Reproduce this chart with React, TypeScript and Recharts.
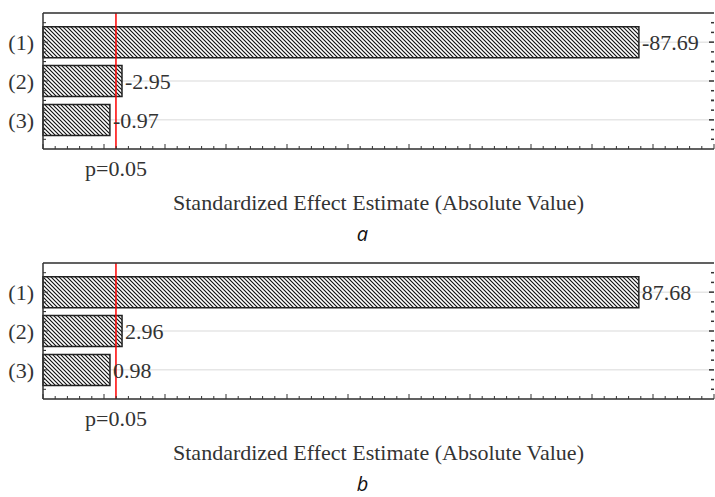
import {
  BarChart,
  Bar,
  XAxis,
  YAxis,
  CartesianGrid,
  ReferenceLine,
  LabelList,
  Label,
} from "recharts";

// Pareto of standardized effects, two fits
const factors = ["(1)", "(2)", "(3)"];
const effectsA = [-87.69, -2.95, -0.97];
const effectsB = [87.68, 2.96, 0.98];
const pLimit = 1.96;
const pLabel = "p=0.05";
const axisTitle = "Standardized Effect Estimate (Absolute Value)";

const xMin = -10;
const xMax = 100;
const xTicks = [
  -10, -8, -6, -4, -2, 0, 2, 4, 6, 8, 10, 12, 14, 16, 18, 20, 22, 24, 26, 28,
  30, 32, 34, 36, 38, 40, 42, 44, 46, 48, 50, 52, 54, 56, 58, 60, 62, 64, 66,
  68, 70, 72, 74, 76, 78, 80, 82, 84, 86, 88, 90, 92, 94, 96, 98, 100,
];

const INK = "#333";
const SERIF = "'Liberation Serif', 'Times New Roman', serif";
const PLOT_TOP = 13;
const PLOT_BOTTOM = 149;
const BAND_PAD = 9.7;
// spacing of the frame ticks on the side edges: four per category band
const SIDE_STEP = (PLOT_BOTTOM - PLOT_TOP - 2 * BAND_PAD) / factors.length / 4;
const SIDE_OFFSETS = [-2, -1, 0, 1, 2];

const BottomTick = ({ x, y, payload }: any) => {
  const len = payload.value % 10 === 0 ? 5 : 3;
  return <line x1={x} y1={y} x2={x} y2={y - len} stroke={INK} strokeWidth={1} />;
};

const TopTick = ({ x, y, payload }: any) => {
  const len = payload.value % 10 === 0 ? 5 : 3;
  return <line x1={x} y1={y} x2={x} y2={y + len} stroke={INK} strokeWidth={1} />;
};

// side ticks around one category centre; dir = +1 points right, -1 points left
const sideMarks = (x: number, y: number, dir: number, width: number) =>
  SIDE_OFFSETS.map((k) => {
    const len = k === 0 ? 5 : 3;
    const yy = y + k * SIDE_STEP;
    return (
      <line
        key={k}
        x1={x}
        y1={yy}
        x2={x + dir * len}
        y2={yy}
        stroke={INK}
        strokeWidth={width}
      />
    );
  });

const LeftTick = ({ x, y, payload }: any) => (
  <g>
    {sideMarks(x, y, 1, 1)}
    <text
      x={x - 9}
      y={y}
      dy="0.35em"
      textAnchor="end"
      fill={INK}
      fontSize={22}
      fontFamily={SERIF}
    >
      {payload.value}
    </text>
  </g>
);

const RightTick = ({ x, y }: any) => <g>{sideMarks(x, y, -1, 1.5)}</g>;

interface EffectPanelProps {
  effects: number[];
  caption: string;
  height: number;
  patternId: string;
}

function EffectPanel({ effects, caption, height, patternId }: EffectPanelProps) {
  const data = factors.map((name, i) => ({
    name,
    span: [xMin, Math.abs(effects[i])],
    label: effects[i].toFixed(2),
  }));

  return (
    <BarChart
      width={715}
      height={height}
      data={data}
      layout="vertical"
      margin={{ top: PLOT_TOP - 1, right: 0, bottom: height - PLOT_BOTTOM - 1, left: 42 }}
    >
      <defs>
        <pattern id={patternId} patternUnits="userSpaceOnUse" width={4} height={4}>
          <rect width={4} height={4} fill="#fff" />
          <path d="M-1,-1 L5,5 M-1,3 L1,5 M3,-1 L5,1" stroke="#111" strokeWidth={1.15} />
        </pattern>
      </defs>
      <CartesianGrid
        vertical={false}
        xAxisId="v"
        yAxisId="cat"
        stroke="#e6e6e6"
        strokeWidth={1.5}
      />
      <XAxis
        xAxisId="v"
        type="number"
        domain={[xMin, xMax]}
        ticks={xTicks}
        interval={0}
        height={1}
        tickSize={0}
        tickMargin={0}
        tickLine={false}
        axisLine={{ stroke: INK, strokeWidth: 1.5 }}
        tick={BottomTick}
      >
        <Label
          value={axisTitle}
          position="bottom"
          offset={44}
          fill={INK}
          fontSize={22}
          fontFamily={SERIF}
        />
        <Label
          value={caption}
          position="bottom"
          offset={77}
          dx={-16}
          fill="#111"
          fontSize={20}
          fontFamily="'Open Sans', sans-serif"
          fontStyle="italic"
        />
      </XAxis>
      <XAxis
        xAxisId="t"
        orientation="top"
        type="number"
        domain={[xMin, xMax]}
        ticks={xTicks}
        interval={0}
        height={1}
        tickSize={0}
        tickMargin={0}
        tickLine={false}
        axisLine={{ stroke: INK, strokeWidth: 1.5 }}
        tick={TopTick}
      />
      <YAxis
        yAxisId="cat"
        type="category"
        dataKey="name"
        width={1}
        axisLine={{ stroke: INK, strokeWidth: 1.5 }}
        tickLine={false}
        tickSize={0}
        tickMargin={0}
        tick={LeftTick}
        padding={{ top: BAND_PAD, bottom: BAND_PAD }}
      />
      <YAxis
        yAxisId="side"
        orientation="right"
        type="category"
        dataKey="name"
        width={1}
        axisLine={false}
        tickLine={false}
        tickSize={0}
        tickMargin={0}
        tick={RightTick}
        padding={{ top: BAND_PAD, bottom: BAND_PAD }}
      />
      <Bar
        xAxisId="v"
        yAxisId="cat"
        dataKey="span"
        fill={`url(#${patternId})`}
        stroke="#222"
        strokeWidth={1.5}
        barSize={31}
        isAnimationActive={false}
      >
        <LabelList
          dataKey="label"
          position="right"
          offset={3}
          fill={INK}
          fontSize={22}
          fontFamily={SERIF}
        />
      </Bar>
      <ReferenceLine
        xAxisId="v"
        yAxisId="cat"
        x={pLimit}
        stroke="#ff0000"
        strokeWidth={1.5}
        label={{
          value: pLabel,
          position: "bottom",
          offset: 11,
          fill: INK,
          fontSize: 22,
          fontFamily: SERIF,
        }}
      />
    </BarChart>
  );
}

export default function App() {
  return (
    <div
      style={{
        position: "absolute",
        left: 0,
        top: 0,
        width: 715,
        height: 497,
        background: "#fff",
        fontFamily: SERIF,
      }}
    >
      <EffectPanel effects={effectsA} caption="a" height={250} patternId="hatch-a" />
      <EffectPanel effects={effectsB} caption="b" height={247} patternId="hatch-b" />
    </div>
  );
}
